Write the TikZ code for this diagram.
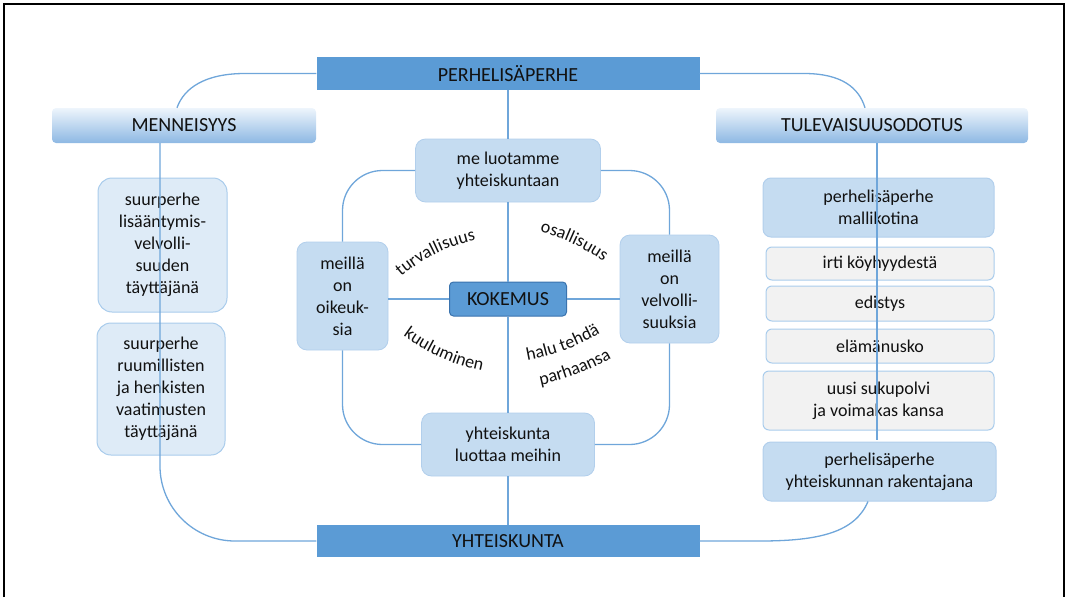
\documentclass[tikz,border=0pt]{standalone}
\usepackage{fontspec}
\setmainfont{Carlito}
\usetikzlibrary{decorations.text,calc}
\definecolor{barblue}{HTML}{5B9BD5}
\definecolor{linecol}{HTML}{6FA6DA}
\definecolor{lightbox}{HTML}{DEEBF7}
\definecolor{lightedge}{HTML}{A9CCEC}
\definecolor{midbox}{HTML}{C5DCF1}
\definecolor{midedge}{HTML}{B2CFEC}
\definecolor{grayfill}{HTML}{F2F2F2}
\definecolor{kokedge}{HTML}{3A73AE}
\definecolor{hdrtop}{HTML}{EEF5FC}
\definecolor{hdrbot}{HTML}{8DB8E3}
\definecolor{txt}{HTML}{111111}
\begin{document}
\begin{tikzpicture}[x=1pt,y=1pt,
  every node/.style={text=txt, inner sep=0pt, align=center},
  bar/.style={fill=barblue, minimum width=383pt, minimum height=33pt, font=\fontsize{20}{24}\selectfont},
  hdr/.style={rounded corners=4pt, top color=hdrtop, bottom color=hdrbot, minimum height=35pt, font=\fontsize{20}{24}\selectfont},
  body/.style={font=\fontsize{18}{22}\selectfont},
  lbox/.style={body, draw=lightedge, fill=lightbox, line width=1pt, rounded corners=14pt},
  cbox/.style={body, draw=midedge, fill=midbox, line width=0.8pt, rounded corners=10pt},
  rgray/.style={body, draw=lightedge, fill=grayfill, line width=1pt, rounded corners=6pt},
  rblue/.style={body, draw=midedge, fill=midbox, line width=1pt, rounded corners=8pt},
  conn/.style={draw=linecol, line width=1.3pt},
  frame/.style={draw=black, line width=1.5pt}
]
\useasboundingbox (0,0) rectangle (1068,-597);
\draw[frame] (4,-597) -- (4,-4) -- (1064,-4) -- (1064,-597);

% headers
\node[bar] (perhe) at (508,-73.5) {PERHELISÄPERHE};
\node[bar, minimum height=32pt] (yht) at (508,-541) {YHTEISKUNTA};
\node[hdr, minimum width=264pt] (menn) at (184,-125.5) {MENNEISYYS};
\node[hdr, minimum width=312pt] (tul) at (872,-125.5) {TULEVAISUUSODOTUS};

% left column
\node[lbox, minimum width=129pt, minimum height=134pt] (l1) at (162.5,-245) {suurperhe\\lisääntymis-\\velvolli-\\suuden\\täyttäjänä};
\node[lbox, minimum width=128pt, minimum height=132pt] (l2) at (161,-389) {suurperhe\\ruumillisten\\ja henkisten\\vaatimusten\\täyttäjänä};

% centre
\node[cbox, minimum width=185pt, minimum height=63pt] (me) at (508,-170.5) {me luotamme\\yhteiskuntaan};
\node[cbox, minimum width=91pt, minimum height=108pt] (oik) at (342.5,-296) {meillä\\on\\oikeuk-\\sia};
\node[cbox, minimum width=99pt, minimum height=108pt] (vel) at (669.5,-289) {meillä\\on\\velvolli-\\suuksia};
\node[cbox, minimum width=173pt, minimum height=63pt] (luot) at (508,-444.5) {yhteiskunta\\luottaa meihin};
\node[draw=kokedge, fill=barblue, line width=1pt, rounded corners=4pt, minimum width=117pt, minimum height=34pt, font=\fontsize{20}{24}\selectfont] (kok) at (508,-299) {KOKEMUS};

% right column
\node[rblue, minimum width=231pt, minimum height=59pt] (mk) at (878.5,-207.5) {perhelisäperhe\\mallikotina};
\node[rgray, minimum width=228pt, minimum height=33pt] (irti) at (880,-263.5) {irti köyhyydestä};
\node[rgray, minimum width=228pt, minimum height=35pt] (edi) at (880,-303.5) {edistys};
\node[rgray, minimum width=228pt, minimum height=34pt] (ela) at (880,-346) {elämänusko};
\node[rgray, minimum width=231pt, minimum height=59pt] (uusi) at (878.5,-400.5) {uusi sukupolvi\\ja voimakas kansa};
\node[rblue, minimum width=233pt, minimum height=59pt] (rak) at (879.5,-471.5) {perhelisäperhe\\yhteiskunnan rakentajana};

\coordinate (rend) at (877,-440);

% outer connectors
\draw[conn] (perhe.west) -- (245,-73.5) .. controls (205,-73.5) and (184,-88) .. (177,0 |- menn.north);
\draw[conn] (perhe.east) -- (804,-73.5) .. controls (842,-73.5) and (859,-88) .. (865,0 |- tul.north);
\draw[conn, rounded corners=75pt] (160,0 |- menn.south) |- (yht.west);
\draw[conn] (877,0 |- tul.south) -- (rend);
\draw[conn] (868,0 |- rak.south) .. controls (855,-532) and (820,-541) .. (760,-541) -- (yht.east);

% centre connectors
\draw[conn] (perhe.south) -- (me.north);
\draw[conn] (me.south) -- (kok.north);
\draw[conn] (kok.south) -- (luot.north);
\draw[conn] (luot.south) -- (yht.north);
\draw[conn, rounded corners=40pt] (me.west) -| (oik.north);
\draw[conn, rounded corners=40pt] (me.east) -| (vel.north);
\draw[conn, rounded corners=40pt] (oik.south) |- (luot.west);
\draw[conn, rounded corners=40pt] (vel.south) |- (luot.east);
\draw[conn] (kok.west) -- (kok.west -| oik.east);
\draw[conn] (kok.east) -- (kok.east -| vel.west);

% curved labels
\path[decorate, decoration={text along path, text align=center,
  text={|\fontsize{18}{21}\selectfont\color{txt}|turvallisuus}}]
  ($(508,-401)+(141:164)$) arc[start angle=141, end angle=91, radius=164];
\path[decorate, decoration={text along path, text align=center,
  text={|\fontsize{18}{21}\selectfont\color{txt}|osallisuus}}]
  ($(490.6,-420.7)+(90:195)$) arc[start angle=90, end angle=40, radius=195];
\path[decorate, decoration={text along path, text align=center,
  text={|\fontsize{18}{21}\selectfont\color{txt}|kuuluminen}}]
  ($(522,-175)+(-139:200)$) arc[start angle=-139, end angle=-89, radius=200];
\path[decorate, decoration={text along path, text align=center,
  text={|\fontsize{18}{21}\selectfont\color{txt}|halu tehdä}}]
  ($(489.8,-143.3)+(-95:220)$) arc[start angle=-95, end angle=-45, radius=220];
\path[decorate, decoration={text along path, text align=center,
  text={|\fontsize{18}{21}\selectfont\color{txt}|parhaansa}}]
  ($(489.8,-143.3)+(-94.3:247)$) arc[start angle=-94.3, end angle=-44.3, radius=247];
\end{tikzpicture}
\end{document}
